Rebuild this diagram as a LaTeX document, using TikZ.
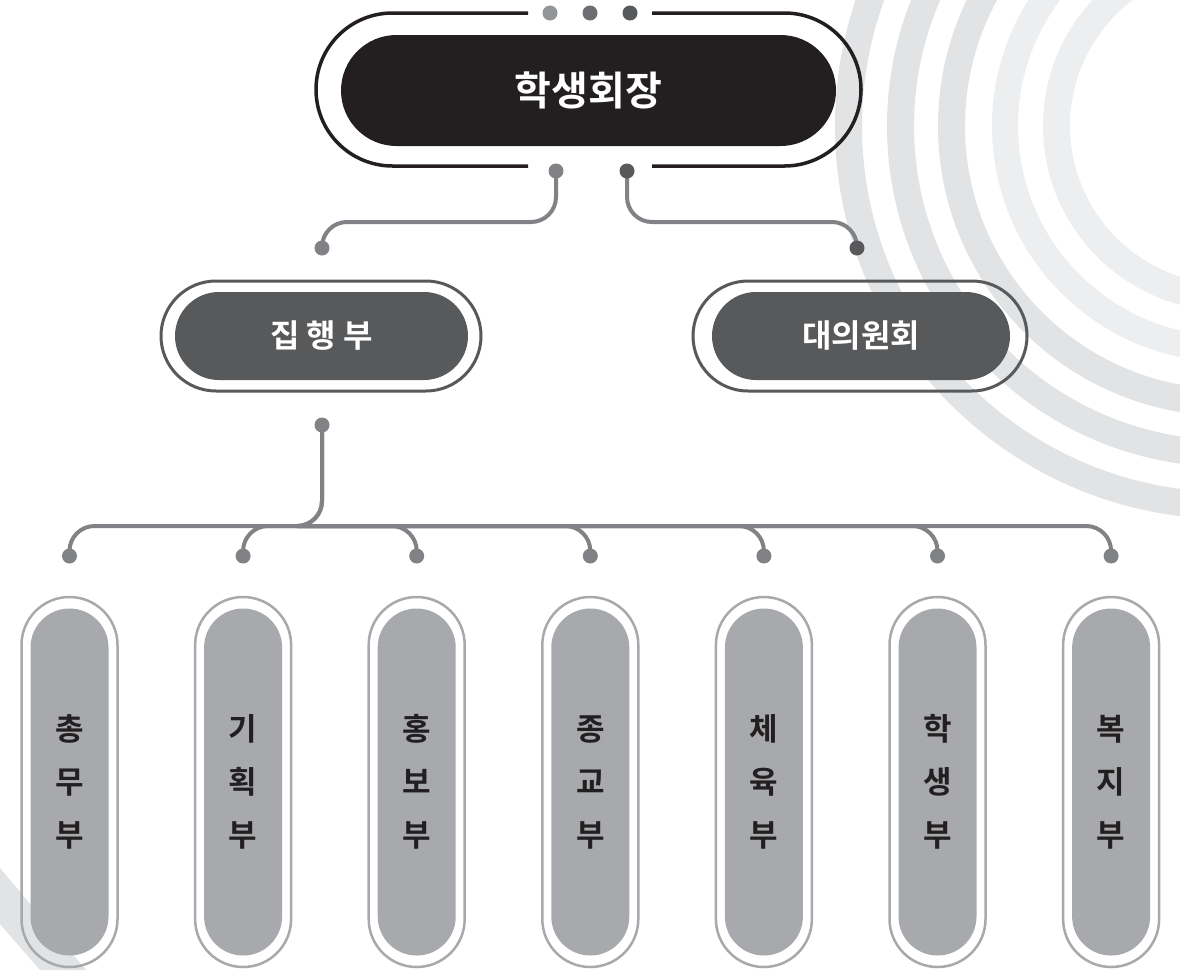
\documentclass[tikz,border=0pt]{standalone}
\usepackage{fontspec}
\newfontfamily\kr{Noto Sans CJK KR}[BoldFont={Noto Sans CJK KR Bold}]
\usetikzlibrary{calc}
\definecolor{ink}{HTML}{231F20}
\definecolor{dgray}{HTML}{58595B}
\definecolor{mgray}{HTML}{6D6E71}
\definecolor{lgray}{HTML}{939598}
\definecolor{cgray}{HTML}{808285}
\definecolor{pgray}{HTML}{A7A9AC}
\definecolor{bandA}{HTML}{E2E3E5}
\definecolor{bandB}{HTML}{EDEEEF}
\tikzset{
 conn/.style={draw=cgray, line width=4pt, rounded corners=25pt},
 dotg/.style={circle, fill=cgray, inner sep=0pt, minimum size=15pt},
 dotd/.style={circle, fill=dgray, inner sep=0pt, minimum size=15pt},
 presring/.style={draw=ink, line width=3.5pt, rounded corners=76.5pt},
 presfill/.style={fill=ink, rounded corners=55.5pt, minimum width=495pt, minimum height=111pt, inner sep=0pt, text=white, font=\kr\bfseries\fontsize{40}{46}\selectfont},
 subring/.style={draw=dgray, line width=3pt, rounded corners=55pt, minimum height=110pt, inner sep=0pt},
 subfill/.style={fill=dgray, rounded corners=44pt, minimum height=88pt, inner sep=0pt, text=white, font=\kr\bfseries\fontsize{32}{36}\selectfont},
 pillring/.style={draw=pgray, line width=2.5pt, rounded corners=48pt, minimum width=96pt, minimum height=370pt, inner sep=0pt},
 pillfill/.style={fill=pgray, rounded corners=39pt, minimum width=78pt, minimum height=347pt, inner sep=0pt, text=ink, align=center, font=\kr\bfseries\fontsize{31}{53}\selectfont},
}
\begin{document}
\begin{tikzpicture}[x=1pt,y=-1pt]
\useasboundingbox (0,0) rectangle (1180,970);
\fill[white] (0,0) rectangle (1180,970);
% background rings
\begin{scope}
\clip (0,0) rectangle (1180,970);
\coordinate (bc) at (1228,126);
\fill[bandA] (0,868) -- (86,970) -- (40,970) -- (0,924) -- cycle;
\fill[bandA, even odd rule] (bc) circle[radius=393] (bc) circle[radius=366];
\fill[bandA, even odd rule] (bc) circle[radius=341] (bc) circle[radius=314];
\fill[bandA, even odd rule] (bc) circle[radius=290] (bc) circle[radius=263];
\fill[bandB, even odd rule] (bc) circle[radius=236] (bc) circle[radius=210];
\fill[bandB, even odd rule] (bc) circle[radius=185] (bc) circle[radius=158];
\end{scope}

% top node
\draw[presring] (528,13) -- (316,13) -- (316,166) -- (528,166);
\draw[presring] (652,13) -- (861,13) -- (861,166) -- (652,166);
\node[presfill] (pres) at (588.5,90.5) {학생회장};
\node[circle, fill=lgray, inner sep=0pt, minimum size=15pt] (t1) at (550,13) {};
\node[circle, fill=mgray, inner sep=0pt, minimum size=15pt] (t2) at (590,13) {};
\node[circle, fill=dgray, inner sep=0pt, minimum size=15pt] (t3) at (630,13) {};

% second level
\node[subring, minimum width=320pt] (execR) at (321,336) {};
\node[subfill, minimum width=293pt] (exec) at (321.5,336) {집 행 부};
\node[subring, minimum width=334pt] (repR) at (860,336) {};
\node[subfill, minimum width=298pt] (rep) at (861,336) {대의원회};

% connector coordinates
\coordinate (pL) at (556,171);
\coordinate (pR) at (627,171);
\coordinate (jL) at (322,248);
\coordinate (jR) at (857,248);
\coordinate (hL) at (0,222);
\coordinate (d0) at (322,425);
\coordinate (hB) at (0,526);
\foreach \i/\x in {1/69.5,2/243.1,3/416.7,4/590.3,5/763.9,6/937.5,7/1111.1}
  \coordinate (c\i) at (\x,556);

% connectors
\draw[conn] (pL) -- (pL |- hL) -- (jL |- hL) -- (jL);
\draw[conn] (pR) -- (pR |- hL) -- (jR |- hL) -- (jR);
\draw[conn] (d0) -- (d0 |- hB) -- (c1 |- hB) -- (c1);
\draw[conn] (d0) -- (d0 |- hB) -- (c2 |- hB) -- (c2);
\foreach \i in {3,...,7}
  \draw[conn] ($(d0 |- hB)+(-25,0)$) -- (c\i |- hB) -- (c\i);

% dots
\node[dotg] (npL) at (pL) {};
\node[dotd] (npR) at (pR) {};
\node[dotg] (njL) at (jL) {};
\node[dotd] (njR) at (jR) {};
\node[dotg] (nd0) at (d0) {};
\foreach \i in {1,...,7}
  \node[dotg] (nc\i) at (c\i) {};

% departments
\foreach \i/\x/\t in {1/69.5/{총\\무\\부},2/243.1/{기\\획\\부},3/416.7/{홍\\보\\부},4/590.3/{종\\교\\부},5/763.9/{체\\육\\부},6/937.5/{학\\생\\부},7/1111.1/{복\\지\\부}}{
  \node[pillring] (pr\i) at (\x,782) {};
  \node[pillfill] (pf\i) at (\x,782) {\t};
}
\end{tikzpicture}
\end{document}
